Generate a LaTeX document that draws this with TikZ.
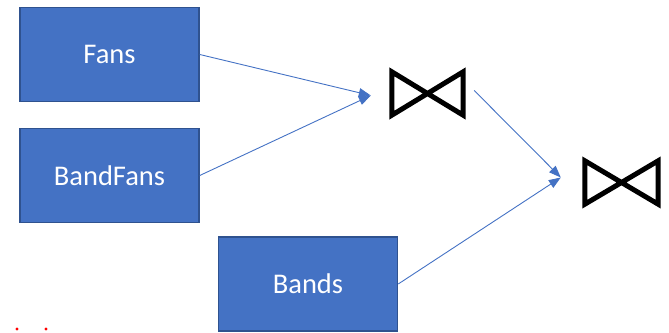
\documentclass[tikz,border=0pt]{standalone}
\usepackage{fontspec}
\setmainfont{Carlito}
\usetikzlibrary{arrows.meta}
\definecolor{boxblue}{HTML}{4472C4}
\definecolor{boxedge}{HTML}{2F528F}
\tikzset{
  rel/.style={draw=boxedge, line width=1.5pt, fill=boxblue, text=white,
    minimum width=179pt, minimum height=94pt, inner sep=0pt,
    font=\fontsize{28.5}{34}\selectfont},
  join/.style={minimum width=#1, minimum height=43pt, inner sep=0pt},
  flow/.style={boxblue, line width=0.9pt, -{Triangle[length=12pt,width=9pt]}},
}
\begin{document}
\begin{tikzpicture}[x=1pt,y=1pt]
    \useasboundingbox (0,0) rectangle (669,332);
    \node[rel] (fans)     at (109.5,277.5) {Fans};
    \node[rel] (bandfans) at (109.5,156.5) {BandFans};
    \node[rel] (bands)    at (308,48)      {Bands};
    \node[join=71pt] (j1) at (427.5,238.5) {};
    \node[join=73pt] (j2) at (621.5,149.5) {};
    % the two join symbols
    \draw[line width=5pt, line join=miter] (j1.north west) -- (j1.south west)
        -- (j1.north east) -- (j1.south east) -- cycle;
    \draw[line width=5pt, line join=miter] (j2.north west) -- (j2.south west)
        -- (j2.north east) -- (j2.south east) -- cycle;
    \coordinate (j1in)  at ([xshift=-21pt,yshift=-2pt]j1.west);
    \coordinate (j1out) at ([xshift=11pt,yshift=3pt]j1.east);
    \coordinate (j2in)  at ([xshift=-24pt,yshift=5pt]j2.west);
    \draw[flow] (fans.east) -- (j1in);
    \draw[flow] (bandfans.east) -- (j1in);
    \draw[flow] (j1out) -- (j2in);
    \draw[flow] (bands.east) -- (j2in);
    \fill[red] (17,3) circle (1.6) (46,3) circle (1.6);
\end{tikzpicture}
\end{document}
